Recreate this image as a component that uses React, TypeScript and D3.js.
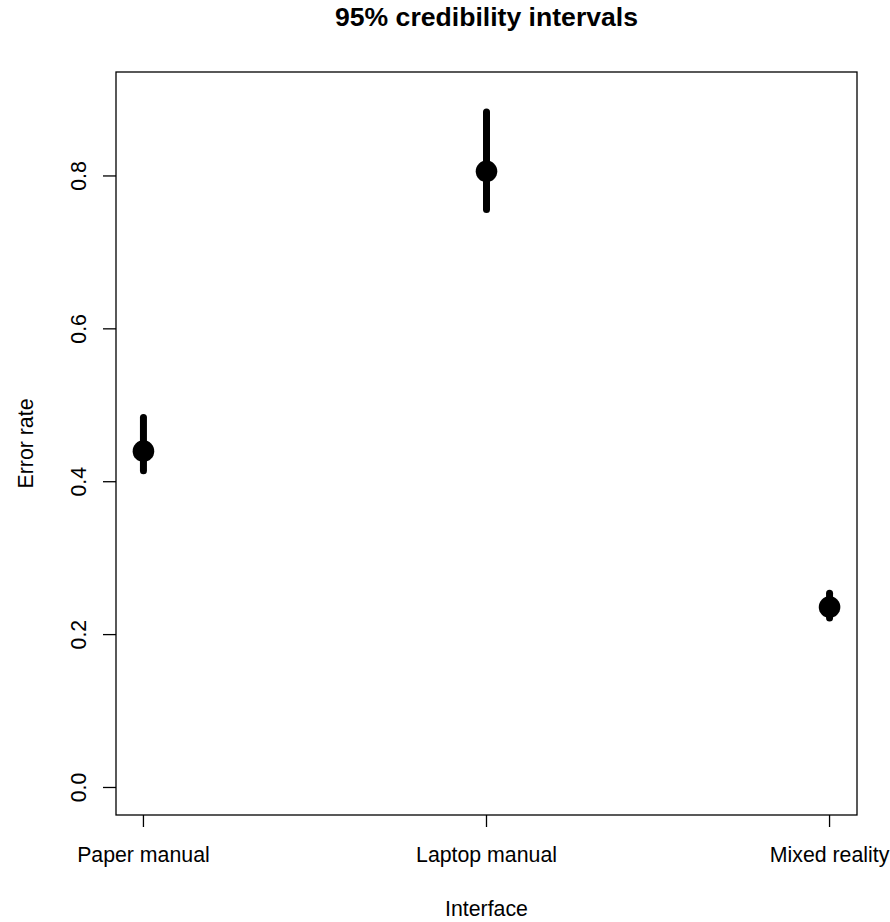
import React from "react";
import * as d3 from "d3";

const categories = ["Paper manual", "Laptop manual", "Mixed reality"];
const means = [0.44, 0.806, 0.236];
const lower = [0.4144, 0.756, 0.2217];
const upper = [0.484, 0.8837, 0.254];
const yTicks = [0, 0.2, 0.4, 0.6, 0.8];
const yTickLabels = ["0.0", "0.2", "0.4", "0.6", "0.8"];

const W = 890;
const H = 922;
const plot = { left: 116, right: 857, top: 72, bottom: 815 };
const FONT = "'Liberation Sans', Arial, sans-serif";

export default function App() {
  const x = d3
    .scaleLinear()
    .domain([1 - 0.08, 3 + 0.08])
    .range([plot.left, plot.right]);
  const y = d3
    .scaleLinear()
    .domain([-0.036, 0.936])
    .range([plot.bottom, plot.top]);

  const cx = (i: number) => x(i + 1);
  const midX = (plot.left + plot.right) / 2;
  const midY = (plot.top + plot.bottom) / 2;

  return (
    <svg
      width={W}
      height={H}
      style={{ position: "absolute", left: 0, top: 0, background: "#fff" }}
      fontFamily={FONT}
    >
      <rect x={0} y={0} width={W} height={H} fill="#fff" />
      <text
        x={midX}
        y={26}
        textAnchor="middle"
        fontWeight="bold"
        fontSize={26.6}
        fill="#000"
      >
        95% credibility intervals
      </text>

      {/* plot box */}
      <rect
        x={plot.left}
        y={plot.top}
        width={plot.right - plot.left}
        height={plot.bottom - plot.top}
        fill="none"
        stroke="#000"
        strokeWidth={1.3}
      />

      {/* x axis ticks and labels */}
      {categories.map((c, i) => (
        <g key={c}>
          <line
            x1={cx(i)}
            x2={cx(i)}
            y1={plot.bottom}
            y2={plot.bottom + 12}
            stroke="#000"
            strokeWidth={1.3}
          />
          <text
            x={cx(i)}
            y={862}
            textAnchor="middle"
            fontSize={21.3}
            fill="#000"
          >
            {c}
          </text>
        </g>
      ))}

      {/* y axis ticks and labels */}
      {yTicks.map((t, i) => (
        <g key={t}>
          <line
            x1={plot.left - 13}
            x2={plot.left}
            y1={y(t)}
            y2={y(t)}
            stroke="#000"
            strokeWidth={1.3}
          />
          <text
            transform={`translate(86,${y(t)}) rotate(-90)`}
            textAnchor="middle"
            fontSize={21.3}
            fill="#000"
          >
            {yTickLabels[i]}
          </text>
        </g>
      ))}

      {/* axis titles */}
      <text x={midX} y={916} textAnchor="middle" fontSize={21.3} fill="#000">
        Interface
      </text>
      <text
        transform={`translate(33,${midY}) rotate(-90)`}
        textAnchor="middle"
        fontSize={21.3}
        fill="#000"
      >
        Error rate
      </text>

      {/* intervals */}
      {categories.map((c, i) => (
        <g key={"iv" + c}>
          <line
            x1={cx(i)}
            x2={cx(i)}
            y1={y(lower[i])}
            y2={y(upper[i])}
            stroke="#000"
            strokeWidth={7}
            strokeLinecap="round"
          />
          <circle cx={cx(i)} cy={y(means[i])} r={10.8} fill="#000" />
        </g>
      ))}
    </svg>
  );
}
